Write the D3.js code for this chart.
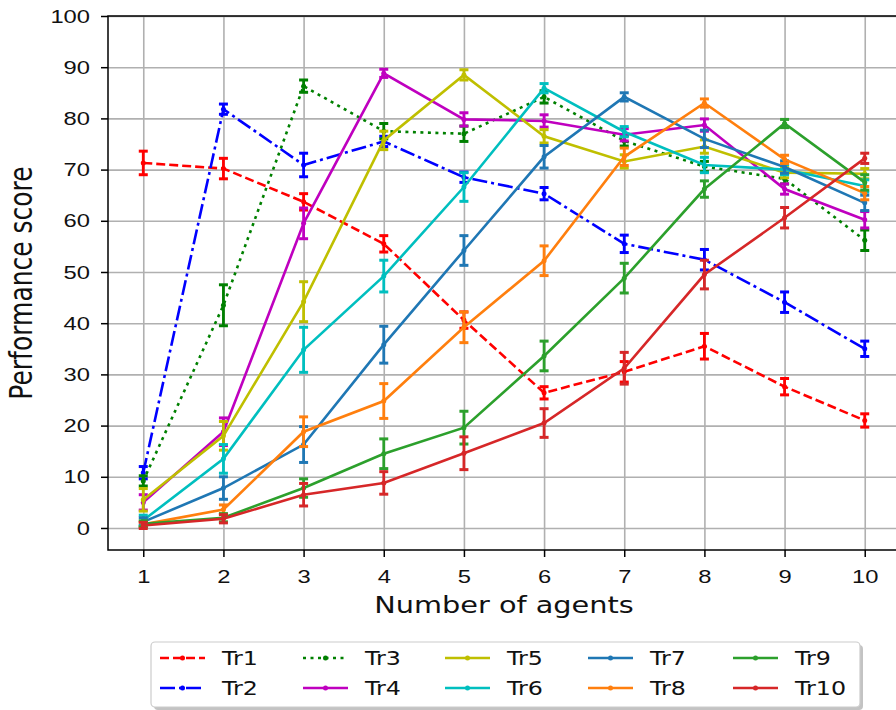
<!DOCTYPE html>
<meta charset="utf-8">
<style>
 body { margin: 0; background: #fff; }
 svg { font-family: "DejaVu Sans", sans-serif; background: #fff; }
 .grid line { stroke: #b0b0b0; stroke-width: 1.6; }
 .grid path { display: none; }
 .axis path, .axis line { stroke: #000; stroke-width: 1.5; }
</style>
<body>
<svg width="896" height="710"></svg>
<script src="https://cdn.jsdelivr.net/npm/d3@7"></script>
<script>
 // number of agents on the x axis
 var agents = [1, 2, 3, 4, 5, 6, 7, 8, 9, 10];
 var yTicks = [0, 10, 20, 30, 40, 50, 60, 70, 80, 90, 100];

 var names = ["Tr1", "Tr2", "Tr3", "Tr4", "Tr5", "Tr6", "Tr7", "Tr8", "Tr9", "Tr10"];
 var colors = ["#ff0000", "#0000ff", "#008000", "#bf00bf", "#bfbf00",
               "#00bfbf", "#1f77b4", "#ff7f0e", "#2ca02c", "#d62728"];
 var styles = ["dash", "dashdot", "dot", "solid", "solid",
               "solid", "solid", "solid", "solid", "solid"];

 // mean scores and error half-widths
 var tr1 = [71.3, 70.2, 63.7, 55.5, 40.6, 26.4, 30.5, 35.5, 27.6, 21.0];
 var tr1Err = [2.3, 2.0, 1.6, 1.6, 1.6, 1.2, 2.0, 2.5, 1.6, 1.3];
 var tr2 = [10.8, 81.8, 70.9, 75.5, 68.5, 65.3, 55.5, 52.4, 44.1, 35.0];
 var tr2Err = [1.2, 1.0, 2.3, 1.0, 1.0, 1.2, 1.7, 2.0, 2.0, 1.5];
 var tr3 = [9.2, 43.5, 86.3, 77.5, 77.0, 84.2, 75.6, 70.6, 68.2, 56.2];
 var tr3Err = [1.0, 4.0, 1.2, 1.5, 1.5, 1.2, 1.0, 1.0, 1.0, 2.0];
 var tr4 = [5.0, 18.8, 59.5, 88.8, 79.8, 79.5, 76.8, 78.7, 66.2, 60.2];
 var tr4Err = [1.5, 2.7, 3.0, 0.8, 1.3, 1.2, 1.2, 1.2, 1.0, 1.6];
 var tr5 = [5.5, 18.0, 44.2, 75.7, 88.5, 76.5, 71.6, 74.5, 69.4, 69.2];
 var tr5Err = [2.2, 2.8, 3.9, 1.8, 1.0, 1.3, 1.3, 1.3, 1.0, 1.0];
 var tr6 = [1.5, 13.5, 34.8, 49.2, 66.6, 85.9, 77.4, 70.9, 70.0, 66.8];
 var tr6Err = [1.0, 2.8, 4.4, 3.1, 2.8, 0.9, 1.0, 1.5, 1.0, 1.2];
 var tr7 = [1.2, 7.8, 16.3, 35.8, 54.2, 72.5, 84.2, 76.0, 70.5, 63.5];
 var tr7Err = [0.8, 2.2, 3.5, 3.6, 2.9, 2.2, 0.8, 1.7, 1.2, 1.5];
 var tr8 = [0.7, 3.6, 18.8, 24.8, 39.2, 52.2, 72.5, 83.0, 72.0, 65.4];
 var tr8Err = [0.5, 0.9, 2.9, 3.4, 3.0, 2.9, 1.7, 0.8, 0.8, 1.3];
 var tr9 = [0.8, 2.0, 7.8, 14.5, 19.6, 33.6, 48.8, 66.2, 79.0, 67.5];
 var tr9Err = [0.6, 0.8, 1.8, 2.9, 3.2, 2.9, 2.9, 1.6, 0.8, 1.5];
 var tr10 = [0.5, 1.8, 6.5, 8.8, 14.6, 20.5, 31.2, 49.5, 60.6, 72.2];
 var tr10Err = [0.6, 0.8, 2.2, 2.2, 3.2, 2.8, 3.1, 2.8, 2.0, 1.0];

 var means = [tr1, tr2, tr3, tr4, tr5, tr6, tr7, tr8, tr9, tr10];
 var errs = [tr1Err, tr2Err, tr3Err, tr4Err, tr5Err, tr6Err, tr7Err, tr8Err, tr9Err, tr10Err];

 var series = names.map(function(n, i) {
     return {
         name: n, color: colors[i], style: styles[i],
         points: agents.map(function(a, j) { return {x: a, y: means[i][j], e: errs[i][j]}; })
     };
 });

 var dashMap = {
     solid: null,
     dash: "9,4",
     dashdot: "15,4,3,4",
     dot: "3,4.5"
 };
 var SX = 1.25; // the figure text is a bit wide

 var svg = d3.select("svg");
 var plotLeft = 108, plotRight = 900, plotTop = 16, plotBottom = 550;

 var x = d3.scaleLinear().domain([0.56, 10.44]).range([plotLeft, plotRight]);
 var y = d3.scaleLinear().domain([-4.3, 100]).range([plotBottom, plotTop]);

 // grid
 svg.append("g").attr("class", "grid")
    .attr("transform", "translate(0," + plotBottom + ")")
    .call(d3.axisBottom(x).tickValues(agents).tickSize(-(plotBottom - plotTop)).tickFormat(""));
 svg.append("g").attr("class", "grid")
    .attr("transform", "translate(" + plotLeft + ",0)")
    .call(d3.axisLeft(y).tickValues(yTicks).tickSize(-(plotRight - plotLeft)).tickFormat(""));

 // lines, error bars, markers
 var line = d3.line().x(function(d) { return x(d.x); }).y(function(d) { return y(d.y); });

 series.forEach(function(s) {
     var g = svg.append("g");
     g.append("path")
      .attr("d", line(s.points))
      .attr("fill", "none")
      .attr("stroke", s.color)
      .attr("stroke-width", 2.6)
      .attr("stroke-dasharray", dashMap[s.style]);
     var eb = g.selectAll(".eb").data(s.points).enter().append("g");
     eb.append("line")
       .attr("x1", function(d) { return x(d.x); })
       .attr("x2", function(d) { return x(d.x); })
       .attr("y1", function(d) { return y(d.y - d.e); })
       .attr("y2", function(d) { return y(d.y + d.e); })
       .attr("stroke", s.color).attr("stroke-width", 2.8);
     [-1, 1].forEach(function(sg) {
         eb.append("line")
           .attr("x1", function(d) { return x(d.x) - 4.5; })
           .attr("x2", function(d) { return x(d.x) + 4.5; })
           .attr("y1", function(d) { return y(d.y + sg * d.e); })
           .attr("y2", function(d) { return y(d.y + sg * d.e); })
           .attr("stroke", s.color).attr("stroke-width", 3);
     });
     eb.append("circle")
       .attr("cx", function(d) { return x(d.x); })
       .attr("cy", function(d) { return y(d.y); })
       .attr("r", 2.5)
       .attr("fill", s.color);
 });

 // frame
 svg.append("rect")
    .attr("x", plotLeft).attr("y", plotTop)
    .attr("width", plotRight - plotLeft).attr("height", plotBottom - plotTop)
    .attr("fill", "none").attr("stroke", "#000").attr("stroke-width", 1.5);

 // axes
 var xAxisG = svg.append("g").attr("class", "axis")
    .attr("transform", "translate(0," + plotBottom + ")")
    .call(d3.axisBottom(x).tickValues(agents).tickSize(7).tickSizeOuter(0));
 xAxisG.select(".domain").remove();
 xAxisG.selectAll("text")
    .attr("y", null).attr("dy", null)
    .attr("transform", "translate(0,33) scale(" + SX + ",1)")
    .style("font-size", "19px").attr("fill", "#111");

 var yAxisG = svg.append("g").attr("class", "axis")
    .attr("transform", "translate(" + plotLeft + ",0)")
    .call(d3.axisLeft(y).tickValues(yTicks).tickSize(7).tickSizeOuter(0));
 yAxisG.select(".domain").remove();
 yAxisG.selectAll("text")
    .attr("x", null)
    .attr("transform", "translate(-18,0) scale(" + SX + ",1)")
    .style("font-size", "19px").attr("fill", "#111");

 svg.append("text")
    .attr("transform", "translate(" + ((plotLeft + plotRight) / 2) + ",613) scale(" + SX + ",1)")
    .attr("text-anchor", "middle")
    .style("font-size", "23px").attr("fill", "#111")
    .text("Number of agents");

 svg.append("text")
    .attr("transform", "translate(32," + ((plotTop + plotBottom) / 2) + ") scale(" + SX + ",1) rotate(-90)")
    .attr("text-anchor", "middle")
    .style("font-size", "25px").attr("fill", "#111")
    .text("Performance score");

 // legend
 var lg = svg.append("g");
 lg.append("rect")
   .attr("x", 154).attr("y", 645).attr("width", 709).attr("height", 65)
   .attr("rx", 4).attr("fill", "#888").attr("opacity", 0.5);
 lg.append("rect")
   .attr("x", 151).attr("y", 642).attr("width", 709).attr("height", 65)
   .attr("rx", 4).attr("fill", "#fff").attr("stroke", "#cccccc").attr("stroke-width", 1.2);

 var colX = [160, 303, 445, 588, 733], rowY = [658, 688];
 series.forEach(function(s, i) {
     var cx = colX[Math.floor(i / 2)], cy = rowY[i % 2];
     lg.append("line")
       .attr("x1", cx).attr("x2", cx + 45)
       .attr("y1", cy).attr("y2", cy)
       .attr("stroke", s.color).attr("stroke-width", 2.6)
       .attr("stroke-dasharray", dashMap[s.style]);
     lg.append("circle").attr("cx", cx + 22.5).attr("cy", cy).attr("r", 2.5).attr("fill", s.color);
     lg.append("text")
       .attr("transform", "translate(" + (cx + 62) + "," + cy + ") scale(" + SX + ",1)")
       .attr("dy", "0.36em")
       .style("font-size", "19px").attr("fill", "#111")
       .text(s.name);
 });
</script>
</body>
